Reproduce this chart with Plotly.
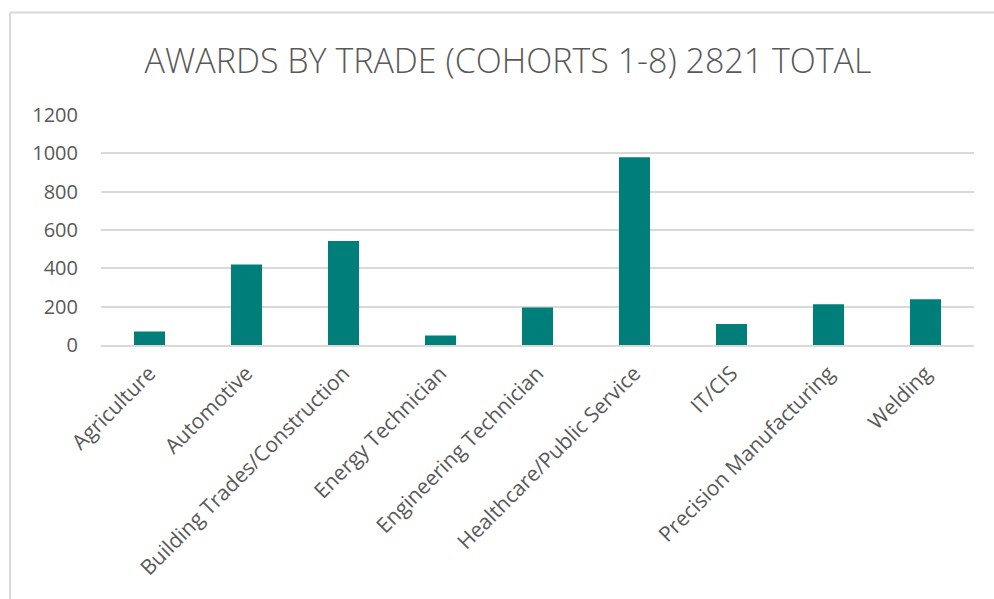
import plotly.graph_objects as go

categories = ["Agriculture", "Automotive", "Building Trades/Construction", "Energy Technician",
              "Engineering Technician", "Healthcare/Public Service", "IT/CIS",
              "Precision Manufacturing", "Welding"]
awards = [70, 420, 543, 50, 196, 980, 110, 213, 239]
y_ticks = [0, 200, 400, 600, 800, 1000, 1200]

W, H = 994, 599
ml, mr, mt, mb = 101, 20, 115, 254
pw, ph = W - ml - mr, H - mt - mb

def px_to_paper_x(px):
    return (px - ml) / pw

def px_to_paper_y(py):
    return (H - mb - py) / ph

grey = "#595959"
font_family = "Open Sans, Liberation Sans, sans-serif"

fig = go.Figure(go.Bar(
    x=categories, y=awards,
    marker=dict(color="#007E7A", line=dict(width=0)),
    width=0.32,
))

fig.update_layout(
    width=W, height=H,
    margin=dict(l=ml, r=mr, t=mt, b=mb, autoexpand=False),
    paper_bgcolor="white", plot_bgcolor="white",
    title=dict(text="AWARDS BY TRADE (COHORTS 1-8) 2821 TOTAL",
               x=508 / W, xanchor="center", y=1 - 61 / H, yanchor="middle",
               font=dict(family=font_family, size=34, color=grey, weight=300)),
    showlegend=False,
    font=dict(family=font_family, color=grey),
    bargap=0.68,
    shapes=[
        dict(type="line", xref="paper", yref="paper",
             x0=px_to_paper_x(10), x1=px_to_paper_x(W + 5),
             y0=px_to_paper_y(12.5), y1=px_to_paper_y(12.5),
             line=dict(color="#d9d9d9", width=2)),
        dict(type="line", xref="paper", yref="paper",
             x0=px_to_paper_x(10), x1=px_to_paper_x(10),
             y0=px_to_paper_y(12.5), y1=px_to_paper_y(H + 5),
             line=dict(color="#d9d9d9", width=2)),
    ],
)

fig.update_yaxes(range=[0, 1200], tickvals=y_ticks, ticktext=[str(v) for v in y_ticks],
                 showgrid=True, gridcolor="#d9d9d9", gridwidth=1.5,
                 zeroline=False, showline=False, ticks="",
                 tickfont=dict(size=20, color=grey), ticklabelstandoff=22)
fig.update_xaxes(tickangle=-45, showline=True, linecolor="#d9d9d9", linewidth=1.5,
                 ticks="", tickfont=dict(size=21, color=grey), showgrid=False,
                 ticklabelstandoff=6)

fig.write_html("out.html", config={"displayModeBar": False},
               post_script="document.body.style.margin='0';document.body.style.overflow='hidden';")
